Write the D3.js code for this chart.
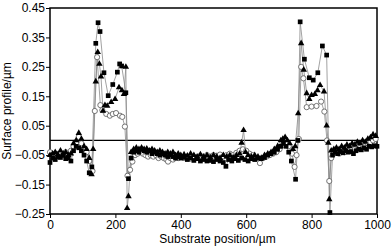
<!DOCTYPE html>
<html>
<head>
<meta charset="utf-8">
<style>
    body { margin: 0; background: #fff; }
    text { font-family: "Liberation Sans", Arial, sans-serif; }
</style>
</head>
<body>
<svg id="chart" width="392" height="247"></svg>
<script src="https://cdn.jsdelivr.net/npm/d3@7"></script>
<script>
// series: filled squares
let sqX = [0, 8, 16, 24, 32, 40, 48, 56, 64, 72, 80, 88, 96, 104, 112, 120, 128, 140, 147, 153, 165, 178, 192, 206, 213, 219, 232, 240,
    248, 256, 264, 272, 280, 288, 296, 304, 312, 320, 328, 336, 344, 352, 360, 368, 376, 384, 392, 400, 410, 420, 430, 440, 450, 460, 470,
    480, 490, 500, 510, 520, 530, 538, 546, 556, 566, 576, 586, 596, 606, 616, 626, 636, 646, 656, 666, 676, 686, 696, 706, 714, 722, 730,
    738, 751, 758, 765, 778, 793, 805, 819, 833, 846, 856, 864, 872, 880, 888, 896, 904, 912, 920, 928, 936, 944, 952, 960, 968, 976, 984, 992, 1000]
let sqY = [-0.075, -0.06, -0.065, -0.055, -0.058, -0.05, -0.062, -0.06, -0.07, -0.035, -0.02, -0.025, -0.035, -0.05, -0.07, -0.11, -0.09,
    0.33, 0.40, 0.37, 0.23, 0.152, 0.19, 0.232, 0.26, 0.253, 0.162, -0.13,
    -0.06, -0.04, -0.035, -0.04, -0.03, -0.035, -0.04, -0.035, -0.045, -0.04, -0.045, -0.05, -0.045, -0.05, -0.055, -0.05, -0.055, -0.06,
    -0.055, -0.06, -0.058, -0.065, -0.06, -0.068, -0.062, -0.07, -0.065, -0.07, -0.068, -0.072, -0.065, -0.07, -0.075, -0.088, -0.065,
    -0.07, -0.062, -0.068, -0.06, -0.065, -0.07, -0.062, -0.065, -0.06, -0.062, -0.058, -0.05, -0.045, -0.04, -0.03, -0.02, -0.01, -0.02,
    -0.04, -0.07, -0.132, 0.0, 0.403, 0.276, 0.213, 0.205, 0.23, 0.321, 0.29, -0.245,
    -0.05, -0.04, -0.045, -0.038, -0.042, -0.035, -0.04, -0.038, -0.045, -0.035, -0.03, -0.032, -0.025, -0.03, -0.02, -0.022, -0.018, -0.02]

// series: filled triangles
let trX = [0, 8, 16, 24, 32, 40, 48, 56, 64, 72, 80, 88, 96, 104, 112, 120, 127, 132, 140, 146, 151, 156, 162, 168, 175, 187, 199, 211,
    220, 226, 232, 236, 240, 248, 256, 264, 272, 280, 288, 296, 304, 312, 320, 328, 336, 344, 352, 360, 368, 376, 384, 392, 400, 410, 420,
    430, 440, 450, 460, 470, 480, 490, 500, 510, 520, 530, 540, 550, 560, 570, 580, 586, 592, 598, 606, 616, 626, 636, 646, 656, 666, 676,
    686, 696, 706, 712, 719, 726, 733, 743, 750, 759, 768, 776, 785, 793, 800, 810, 818, 826, 838, 846, 851, 854, 860, 868, 876, 884, 892,
    900, 908, 916, 924, 932, 940, 948, 956, 964, 972, 980, 988, 996]
let trY = [-0.05, -0.045, -0.04, -0.048, -0.035, -0.045, -0.04, -0.05, -0.045, -0.01, 0.0, 0.025, 0.005, -0.02, -0.03, -0.06, -0.115,
    -0.03, 0.2, 0.30, 0.26, 0.217, 0.10, 0.12, 0.117, 0.13, 0.14, 0.18, 0.17, 0.157, 0.25, -0.23, -0.19,
    -0.04, -0.03, -0.025, -0.03, -0.025, -0.03, -0.028, -0.035, -0.03, -0.035, -0.04, -0.035, -0.04, -0.045, -0.04, -0.045, -0.04, -0.05,
    -0.045, -0.05, -0.048, -0.052, -0.045, -0.05, -0.055, -0.048, -0.055, -0.05, -0.058, -0.05, -0.055, -0.06, -0.05, -0.055, -0.05,
    -0.058, -0.05, -0.045, -0.008, 0.035, -0.04, -0.05, -0.055, -0.05, -0.055, -0.06, -0.05, -0.045, -0.04, -0.03, -0.02, 0.0, 0.005,
    0.011, 0.0, -0.01, -0.03, -0.02, 0.092, 0.33, 0.24, 0.16, 0.14, 0.154, 0.157, 0.17, 0.188, 0.166, 0.05, -0.008, -0.2,
    -0.035, -0.03, -0.025, -0.03, -0.02, -0.025, -0.015, -0.02, -0.01, -0.015, -0.005, -0.01, 0.0, -0.005, 0.005, 0.01, 0.02, 0.015]

// series: open circles
let ciX = [0, 8, 16, 24, 32, 40, 48, 56, 64, 72, 80, 88, 96, 104, 112, 120, 130, 137, 144, 154, 160, 172, 183, 192, 202, 214, 221, 229,
    237, 245, 252, 260, 268, 276, 284, 292, 300, 308, 316, 324, 332, 340, 348, 356, 361, 368, 376, 384, 392, 400, 410, 420, 430, 440, 450,
    460, 470, 480, 490, 500, 510, 520, 530, 540, 550, 560, 570, 580, 590, 600, 610, 620, 630, 642, 652, 662, 672, 682, 692, 702, 712, 720,
    730, 740, 748, 754, 761, 768, 775, 785, 800, 815, 829, 839, 847, 854, 860, 868, 876, 884, 892, 900, 908, 916, 924, 932, 940, 948, 956,
    964, 972, 980, 988, 996]
let ciY = [-0.04, -0.05, -0.045, -0.055, -0.045, -0.05, -0.04, -0.048, -0.035, -0.02, -0.01, 0.012, -0.01, -0.03, -0.04, -0.07, -0.104,
    0.1, 0.283, 0.12, 0.103, 0.09, 0.084, 0.09, 0.093, 0.084, 0.08, 0.047, -0.12, -0.10, -0.072,
    -0.05, -0.045, -0.04, -0.045, -0.05, -0.055, -0.05, -0.055, -0.05, -0.06, -0.055, -0.06, -0.065, -0.072, -0.06, -0.065, -0.058, -0.06,
    -0.055, -0.06, -0.055, -0.062, -0.055, -0.058, -0.052, -0.056, -0.05, -0.055, -0.05, -0.052, -0.048, -0.055, -0.05, -0.045, -0.05,
    -0.042, -0.035, -0.03, -0.035, -0.045, -0.05, -0.06, -0.077, -0.06, -0.055, -0.05, -0.045, -0.04, -0.03, -0.015, -0.01, -0.02, -0.045,
    -0.09, -0.05, 0.005, 0.25, 0.211, 0.113, 0.115, 0.117, 0.132, 0.098, 0.0, -0.138,
    -0.06, -0.045, -0.04, -0.045, -0.035, -0.04, -0.03, -0.035, -0.025, -0.03, -0.02, -0.025, -0.015, -0.02, -0.01, -0.005, 0.0, 0.005]

let xTicks = [0, 200, 400, 600, 800, 1000]
let yTicks = [0.45, 0.35, 0.25, 0.15, 0.05, -0.05, -0.15, -0.25]

let svg = d3.select("#chart")
let mLeft = 50, mRight = 377, mTop = 8, mBottom = 214

let x = d3.scaleLinear().domain([0, 1000]).range([mLeft, mRight])
let y = d3.scaleLinear().domain([-0.25, 0.45]).range([mBottom, mTop])

// axes
let yAxis = d3.axisLeft(y).tickValues(yTicks).tickSize(4).tickFormat(d3.format(".2f"))
let gy = svg.append("g").attr("transform", `translate(${mLeft},0)`).call(yAxis)
let xAxis = d3.axisBottom(x).tickValues(xTicks).tickSize(4).tickFormat(d3.format("d"))
let gx = svg.append("g").attr("transform", `translate(0,${mBottom})`).call(xAxis)

for (let g of [gx, gy]) {
    g.select(".domain").remove()
    g.selectAll("line").attr("stroke", "#000").attr("stroke-width", 1)
    g.selectAll("text").attr("font-size", 12).attr("fill", "#000")
        .attr("font-family", "'Liberation Sans', Arial, sans-serif")
}
gy.selectAll("text").attr("x", -5)
gx.selectAll("text").attr("y", 6)

// frame
svg.append("rect")
    .attr("x", mLeft).attr("y", mTop)
    .attr("width", mRight - mLeft).attr("height", mBottom - mTop)
    .attr("fill", "none").attr("stroke", "#000").attr("stroke-width", 1.5)

// zero line
svg.append("line")
    .attr("x1", x(0)).attr("x2", x(1000))
    .attr("y1", y(0)).attr("y2", y(0))
    .attr("stroke", "#000").attr("stroke-width", 1.3)

let line = d3.line().x(d => x(d[0])).y(d => y(d[1]))

let circles = ciX.map((v, i) => [v, ciY[i]])
let triangles = trX.map((v, i) => [v, trY[i]])
let squares = sqX.map((v, i) => [v, sqY[i]])

let plot = svg.append("g")

for (let s of [circles, triangles, squares]) {
    plot.append("path").datum(s)
        .attr("d", line)
        .attr("fill", "none")
        .attr("stroke", "#8a8a8a")
        .attr("stroke-width", 0.8)
}

plot.selectAll(".ci").data(circles).enter().append("circle")
    .attr("cx", d => x(d[0])).attr("cy", d => y(d[1]))
    .attr("r", 2.6)
    .attr("fill", "#fff").attr("stroke", "#555").attr("stroke-width", 0.8)

let triSym = d3.symbol().type(d3.symbolTriangle).size(18)
plot.selectAll(".tr").data(triangles).enter().append("path")
    .attr("d", triSym)
    .attr("transform", d => `translate(${x(d[0])},${y(d[1])})`)
    .attr("fill", "#000")

let sqSym = d3.symbol().type(d3.symbolSquare).size(22)
plot.selectAll(".sq").data(squares).enter().append("path")
    .attr("d", sqSym)
    .attr("transform", d => `translate(${x(d[0])},${y(d[1])})`)
    .attr("fill", "#000")

// axis titles
svg.append("text")
    .attr("x", (mLeft + mRight) / 2 + 4).attr("y", 243)
    .attr("text-anchor", "middle").attr("font-size", 12)
    .text("Substrate position/µm")

svg.append("text")
    .attr("transform", "translate(11,111) rotate(-90)")
    .attr("text-anchor", "middle").attr("font-size", 12)
    .text("Surface profile/µm")
</script>
</body>
</html>
